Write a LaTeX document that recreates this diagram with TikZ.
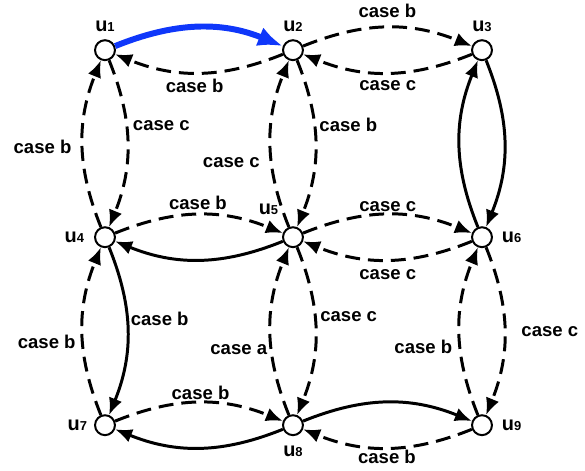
\documentclass[tikz,border=0pt]{standalone}
\usepackage{fontspec}
\setmainfont{Liberation Sans}
\usetikzlibrary{arrows.meta,positioning}
\tikzset{>={Latex[length=8.5pt,width=7pt]}}
\definecolor{arcblue}{RGB}{15,55,250}
\newcommand{\vname}[1]{{\fontsize{10}{11}\selectfont u}{\fontsize{6.5}{7}\selectfont #1}}

\begin{document}
\begin{tikzpicture}[every node/.style={font=\fontsize{9.3}{11}\selectfont\bfseries},
  vtx/.style={circle,draw,fill=white,line width=1pt,minimum size=10pt,inner sep=0pt},
  dsh/.style={->,line width=1.5pt,dash pattern=on 7.5pt off 4pt,bend left=22},
  sld/.style={->,line width=1.5pt,bend left=22}]
\useasboundingbox (-1.852,-0.794) rectangle (8.467,7.50);
% vertices
\node[vtx] (u1) at (0,6.615) {};
\node[vtx] (u2) at (3.316,6.615) {};
\node[vtx] (u3) at (6.65,6.615) {};
\node[vtx] (u4) at (0,3.316) {};
\node[vtx] (u5) at (3.316,3.316) {};
\node[vtx] (u6) at (6.65,3.316) {};
\node[vtx] (u7) at (0,0) {};
\node[vtx] (u8) at (3.316,0) {};
\node[vtx] (u9) at (6.65,0) {};
\node[above=0pt of u1] (n1) {\vname{1}};
\node[above=0pt of u2] (n2) {\vname{2}};
\node[above=0pt of u3] (n3) {\vname{3}};
\node[left=1.5pt of u4] (n4) {\vname{4}};
\node[above left=4pt and 0pt of u5] (n5) {\vname{5}};
\node[right=1pt of u6] (n6) {\vname{6}};
\node[left=0pt of u7] (n7) {\vname{7}};
\node[below=1.5pt of u8] (n8) {\vname{8}};
\node[right=1pt of u9] (n9) {\vname{9}};
% arcs
\draw[sld,arcblue,line width=3pt,-{Latex[length=12.5pt,width=10pt]}] (u1) to (u2);
\draw[dsh] (u2) to (u1);
\draw[dsh] (u2) to (u3);
\draw[dsh] (u3) to (u2);
\draw[dsh] (u1) to (u4);
\draw[dsh] (u4) to (u1);
\draw[dsh] (u2) to (u5);
\draw[dsh] (u5) to (u2);
\draw[sld] (u3) to (u6);
\draw[sld] (u6) to (u3);
\draw[dsh] (u4) to (u5);
\draw[sld] (u5) to (u4);
\draw[dsh] (u5) to (u6);
\draw[dsh] (u6) to (u5);
\draw[sld] (u4) to (u7);
\draw[dsh] (u7) to (u4);
\draw[dsh] (u5) to (u8);
\draw[dsh] (u8) to (u5);
\draw[dsh] (u6) to (u9);
\draw[dsh] (u9) to (u6);
\draw[dsh] (u7) to (u8);
\draw[sld] (u8) to (u7);
\draw[sld] (u8) to (u9);
\draw[dsh] (u9) to (u8);
% arc labels
\node (c21) at (1.582,5.985) {case b};
\node (c23) at (4.981,7.302) {case b};
\node (c32) at (4.988,5.997) {case c};
\node (c14) at (0.993,5.292) {case c};
\node (c41) at (-1.102,4.909) {case b};
\node (c52) at (2.228,4.639) {case c};
\node (c25) at (4.292,5.292) {case b};
\node (c45) at (1.640,3.925) {case b};
\node (c56) at (4.988,3.851) {case c};
\node (c65) at (4.988,2.663) {case c};
\node (c47) at (0.965,1.882) {case b};
\node (c74) at (-1.028,1.469) {case b};
\node (c85) at (2.360,1.328) {case a};
\node (c58) at (4.299,1.910) {case c};
\node (c96) at (5.615,1.381) {case b};
\node (c69) at (7.846,1.646) {case c};
\node (c78) at (1.685,0.573) {case b};
\node (c98) at (4.974,-0.559) {case b};
\end{tikzpicture}
\end{document}
